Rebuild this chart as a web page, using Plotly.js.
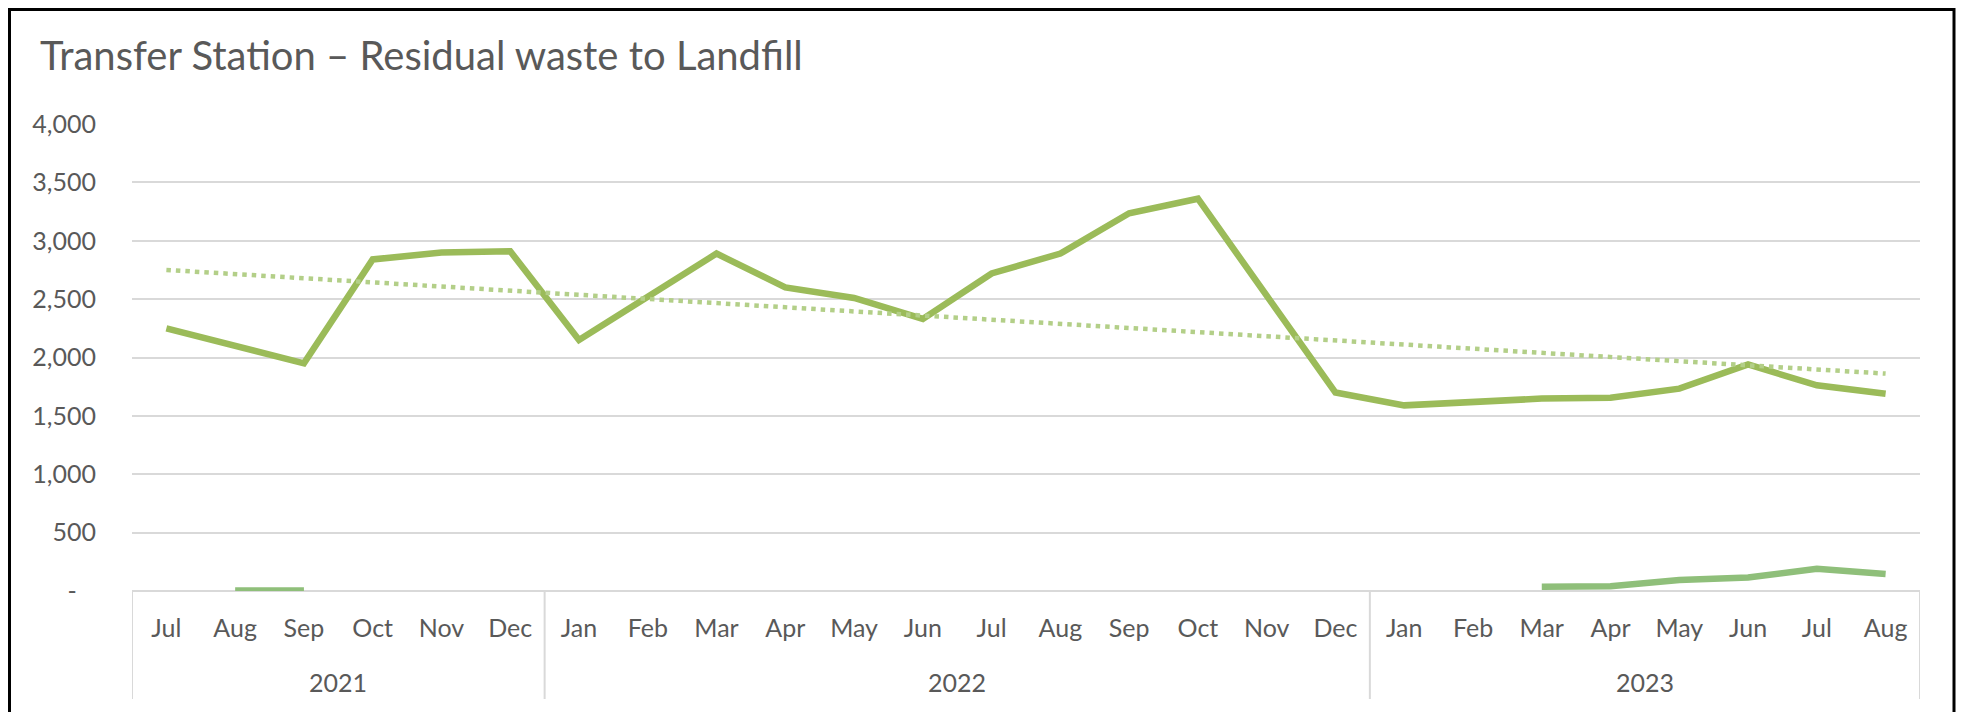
<!DOCTYPE html>
<html>
<head>
<meta charset="utf-8">
<script src="https://cdn.plot.ly/plotly-3.0.1.min.js"></script>
<style>
  html, body { margin: 0; padding: 0; background: #ffffff; }
  #chart { width: 1963px; height: 712px; }
</style>
</head>
<body>
<div id="chart"></div>
<script>
// ---- data ----
const months = ["Jul","Aug","Sep","Oct","Nov","Dec",
                "Jan","Feb","Mar","Apr","May","Jun","Jul","Aug","Sep","Oct","Nov","Dec",
                "Jan","Feb","Mar","Apr","May","Jun","Jul","Aug"];
const years = ["2021","2022","2023"];
const yearCounts = [6, 12, 8];

// Residual waste to landfill (main series)
const residual = [2250, 2100, 1950, 2840, 2900, 2910,
                  2150, 2520, 2890, 2600, 2510, 2330, 2720, 2890, 3235, 3360, 2540, 1700,
                  1590, 1620, 1648, 1655, 1733, 1940, 1762, 1690];

// Second (small) series
const second = [null, 5, 5, null, null, null,
                null, null, null, null, null, null, null, null, null, null, null, null,
                null, null, 37, 40, 95, 115, 190, 145];

// Linear trend line end values (first and last month)
const trendEnds = [2750, 1862];

const yTickVals = [0, 500, 1000, 1500, 2000, 2500, 3000, 3500, 4000];
const yTickText = ["-\u00a0\u00a0\u00a0", "500", "1,000", "1,500", "2,000", "2,500", "3,000", "3,500", "4,000"];

// ---- build ----
const xIdx = months.map((m, i) => i);
const FONT = "Lato, 'Open Sans', 'DejaVu Sans', sans-serif";
const GREY = "#595959";
const GRID = "#D9D9D9";

const traces = [
  {
    x: xIdx, y: residual, type: "scatter", mode: "lines",
    line: { color: "#9BBB59", width: 6.5 }, hoverinfo: "skip", connectgaps: false
  },
  {
    x: xIdx, y: second, type: "scatter", mode: "lines",
    line: { color: "#8FBF7A", width: 6.5 }, hoverinfo: "skip", connectgaps: false
  },
  {
    x: [xIdx[0], xIdx[xIdx.length - 1]], y: trendEnds, type: "scatter", mode: "lines",
    line: { color: "#B3CF88", width: 4.5, dash: "4.5px,5px" }, hoverinfo: "skip"
  }
];

// Group boundaries
const bounds = [-0.5];
let acc = -0.5;
yearCounts.forEach(c => { acc += c; bounds.push(acc); });

const plotL = 132, plotR = 1920, plotT = 124, plotB = 591;
const pw = plotR - plotL, ph = plotB - plotT;
const px2x = p => (p - plotL) / pw;
const px2y = p => (plotB - p) / ph;

const shapes = bounds.map(b => ({
  type: "line", xref: "x", yref: "paper",
  x0: b, x1: b, y0: 0, y1: px2y(699),
  line: { color: GRID, width: 2 }, layer: "below"
}));
shapes.push({
  type: "rect", xref: "paper", yref: "paper",
  x0: px2x(9.5), x1: px2x(1954), y0: px2y(730), y1: px2y(9.5),
  line: { color: "#000000", width: 3 }, fillcolor: "rgba(0,0,0,0)"
});

const annotations = [];
let start = 0;
yearCounts.forEach((c, k) => {
  annotations.push({
    x: start + (c - 1) / 2, xref: "x", y: px2y(682), yref: "paper",
    text: years[k], showarrow: false, yanchor: "middle", xanchor: "center",
    font: { family: FONT, size: 25, color: GREY }
  });
  start += c;
});

const layout = {
  width: 1963, height: 712,
  margin: { l: plotL, r: 1963 - plotR, t: plotT, b: 712 - plotB, pad: 0 },
  paper_bgcolor: "#ffffff", plot_bgcolor: "#ffffff",
  showlegend: false,
  title: {
    text: "Transfer Station \u2013 Residual waste to Landfill",
    x: 40 / 1963, xref: "container", xanchor: "left",
    y: 1 - 56 / 712, yref: "container", yanchor: "middle",
    font: { family: FONT, size: 40, color: GREY, weight: 400 }
  },
  xaxis: {
    range: [-0.5, 25.5], tickmode: "array", tickvals: xIdx, ticktext: months,
    showgrid: false, zeroline: false, showline: false,
    ticks: "outside", ticklen: 15, tickcolor: "rgba(0,0,0,0)",
    tickfont: { family: FONT, size: 25, color: GREY }, fixedrange: true
  },
  yaxis: {
    range: [0, 4000], tickmode: "array", tickvals: yTickVals, ticktext: yTickText,
    showgrid: true, gridcolor: GRID, gridwidth: 2,
    zeroline: true, zerolinecolor: GRID, zerolinewidth: 2, showline: false,
    ticks: "outside", ticklen: 30, tickcolor: "rgba(0,0,0,0)",
    tickfont: { family: FONT, size: 25, color: GREY }, fixedrange: true
  },
  shapes: shapes,
  annotations: annotations
};

Plotly.newPlot("chart", traces, layout, { staticPlot: true, displayModeBar: false });
</script>
</body>
</html>
